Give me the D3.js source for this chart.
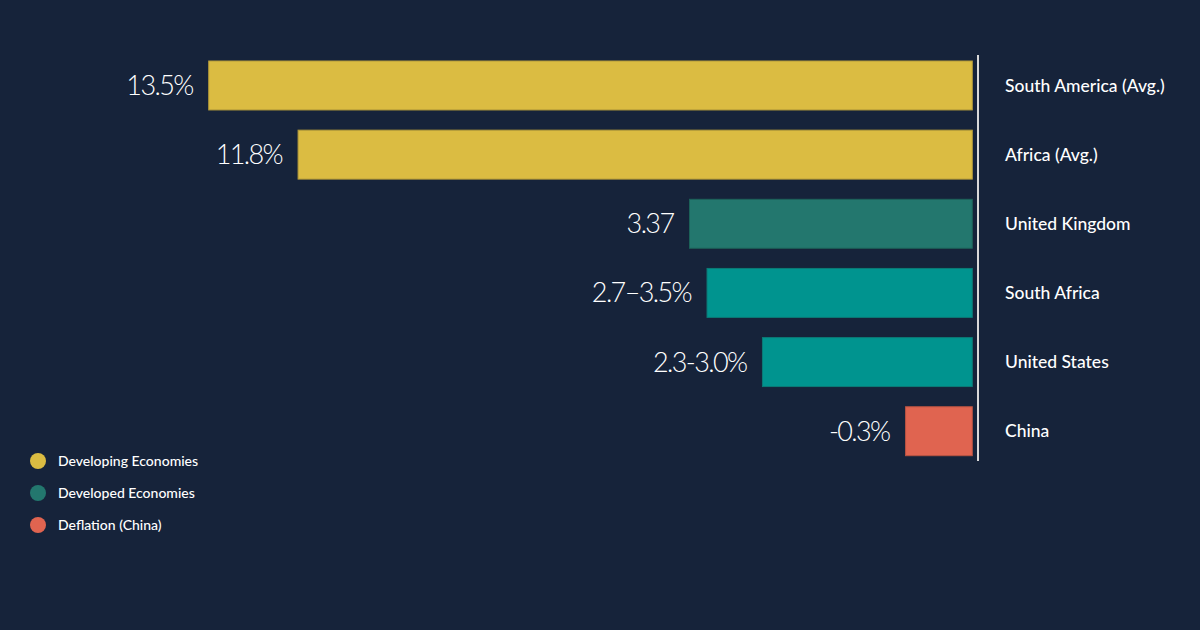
<!DOCTYPE html>
<html>
<head>
<meta charset="utf-8">
<script src="https://cdn.jsdelivr.net/npm/d3@7"></script>
<style>
  html, body { margin: 0; padding: 0; background: #16233a; }
  svg { display: block; }
</style>
</head>
<body>
<svg id="chart" width="1200" height="630"></svg>
<script>
// ---- data ----
const categories = ["South America (Avg.)", "Africa (Avg.)", "United Kingdom", "South Africa", "United States", "China"];
const valueLabels = ["13.5%", "11.8%", "3.37", "2.7\u20133.5%", "2.3-3.0%", "-0.3%"];
// bar lengths as drawn in the picture (display units, bars grow leftwards)
const barLengths = [13.5, 11.92, 5.0, 4.69, 3.71, 1.18];
const groups = ["Developing Economies", "Developing Economies", "Developed Economies", "Developed Economies", "Developed Economies", "Deflation (China)"];
const legendItems = ["Developing Economies", "Developed Economies", "Deflation (China)"];

// ---- styles ----
const barFill = ["#dbbc42", "#dbbc42", "#23776e", "#00948f", "#00948f", "#e06450"];
const barStroke = ["#b39a3a", "#b39a3a", "#1d6259", "#0b7b77", "#0b7b77", "#b85342"];
const legendColor = d3.scaleOrdinal().domain(legendItems).range(["#dbbc42", "#23776e", "#e06450"]);

const svg = d3.select("#chart");
const W = 1200, H = 630;
svg.append("rect").attr("width", W).attr("height", H).attr("fill", "#16233a");

const axisX = 972.3;
const x = d3.scaleLinear().domain([0, 13.5]).range([0, 763.6]);
const y = d3.scaleBand().domain(categories).range([61, 455.7]).paddingInner(0.292).paddingOuter(0);

const rows = categories.map((c, i) => ({ c, i, label: valueLabels[i], len: barLengths[i] }));

svg.selectAll("rect.bar").data(rows).enter().append("rect")
  .attr("class", "bar")
  .attr("x", d => axisX - x(d.len))
  .attr("y", d => y(d.c))
  .attr("width", d => x(d.len))
  .attr("height", y.bandwidth())
  .attr("fill", d => barFill[d.i])
  .attr("stroke", d => barStroke[d.i])
  .attr("stroke-width", 1);

// value labels
svg.selectAll("text.val").data(rows).enter().append("text")
  .attr("class", "val")
  .attr("x", d => axisX - x(d.len) - 16)
  .attr("y", d => y(d.c) + y.bandwidth() / 2)
  .attr("dy", "0.35em")
  .attr("text-anchor", "end")
  .attr("font-family", "Lato, 'Open Sans', sans-serif")
  .attr("font-weight", 300)
  .attr("font-size", 27)
  .attr("letter-spacing", -1.6)
  .attr("fill", "#ffffff")
  .text(d => d.label);

// vertical axis line
svg.append("line")
  .attr("x1", 978).attr("x2", 978)
  .attr("y1", 55).attr("y2", 461)
  .attr("stroke", "#d9d9d9").attr("stroke-width", 2);

// category labels
svg.selectAll("text.cat").data(rows).enter().append("text")
  .attr("class", "cat")
  .attr("x", 1005)
  .attr("y", d => y(d.c) + y.bandwidth() / 2)
  .attr("dy", "0.35em")
  .attr("font-family", "Lato, 'Open Sans', sans-serif")
  .attr("font-weight", 500)
  .attr("font-size", 17.5)
  .attr("fill", "#ffffff")
  .text(d => d.c);

// legend
const leg = svg.append("g");
const legY = d3.scalePoint().domain(legendItems).range([461, 525]);
leg.selectAll("circle").data(legendItems).enter().append("circle")
  .attr("cx", 38).attr("cy", d => legY(d)).attr("r", 8)
  .attr("fill", d => legendColor(d));
leg.selectAll("text").data(legendItems).enter().append("text")
  .attr("x", 58).attr("y", d => legY(d)).attr("dy", "0.35em")
  .attr("font-family", "Lato, 'Open Sans', sans-serif")
  .attr("font-weight", 500)
  .attr("font-size", 14)
  .attr("fill", "#ffffff")
  .text(d => d);
</script>
</body>
</html>
